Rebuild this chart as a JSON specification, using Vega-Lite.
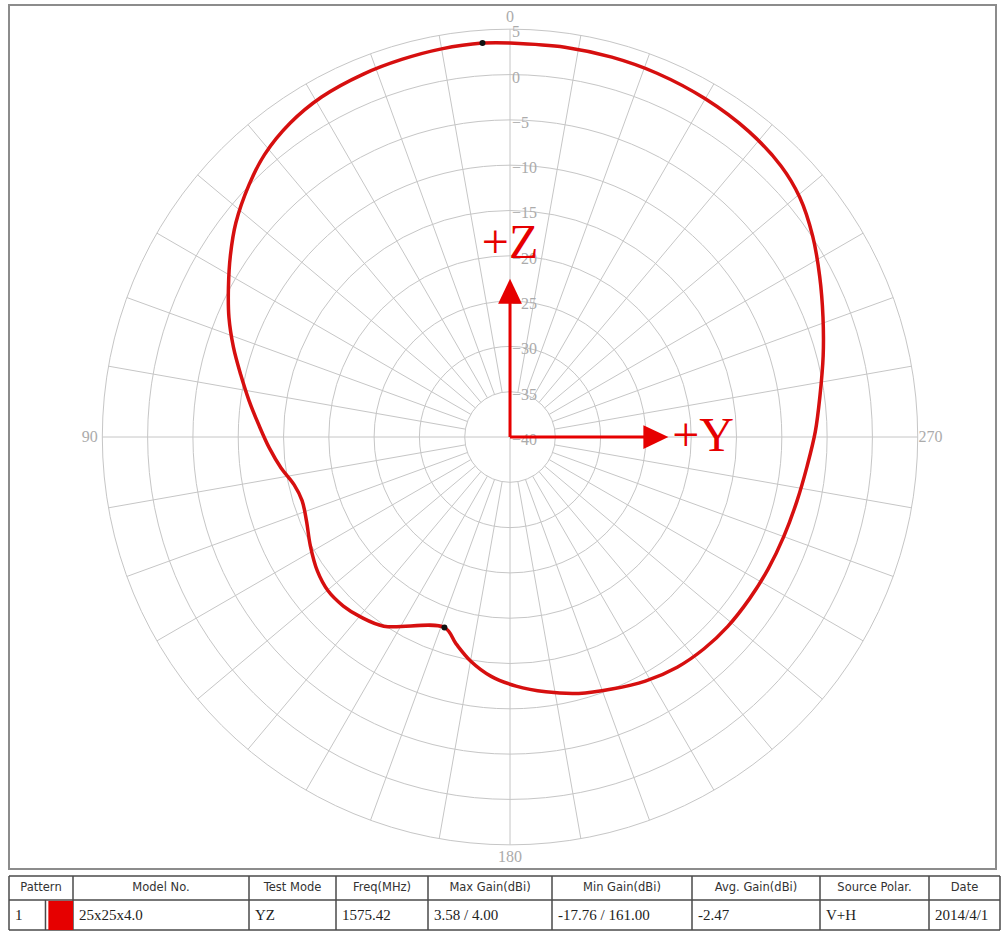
{
  "$schema": "https://vega.github.io/schema/vega-lite/v6.json",
  "background": "white",
  "padding": {"left": 8, "top": 4, "right": 0, "bottom": 0},
  "spacing": 5,
  "config": {"view": {"stroke": null}},
  "datasets": {
    "pattern": [
      {"a": 0, "g": 3.49}, {"a": 4, "g": 3.58}, {"a": 10, "g": 3.5}, {"a": 16, "g": 3.35}, {"a": 22, "g": 3.2},
      {"a": 29, "g": 2.9}, {"a": 35, "g": 2.3}, {"a": 41, "g": 1.3}, {"a": 46, "g": 0.05}, {"a": 52, "g": -1.6},
      {"a": 57, "g": -3.2}, {"a": 62, "g": -4.8}, {"a": 67, "g": -6.3}, {"a": 72, "g": -7.9}, {"a": 77, "g": -9.5},
      {"a": 82, "g": -10.9}, {"a": 87.5, "g": -12.3}, {"a": 92.6, "g": -13.4}, {"a": 97.7, "g": -14.5}, {"a": 102.5, "g": -15.6},
      {"a": 107, "g": -16.0}, {"a": 112.4, "g": -15.7}, {"a": 118.6, "g": -14.9}, {"a": 124.8, "g": -14.1}, {"a": 130.2, "g": -13.7},
      {"a": 135.4, "g": -13.8}, {"a": 140.4, "g": -14.2}, {"a": 146.3, "g": -14.9}, {"a": 161, "g": -17.76}, {"a": 165.4, "g": -16.4},
      {"a": 170, "g": -14.9}, {"a": 175.5, "g": -13.5}, {"a": 181.4, "g": -12.5}, {"a": 188, "g": -11.6}, {"a": 195, "g": -10.7},
      {"a": 202, "g": -10.0}, {"a": 209, "g": -9.2}, {"a": 216, "g": -8.6}, {"a": 222.5, "g": -8.3}, {"a": 229, "g": -8.15},
      {"a": 236, "g": -8.1}, {"a": 243, "g": -8.0}, {"a": 250, "g": -7.85}, {"a": 257.4, "g": -7.55}, {"a": 264.4, "g": -7.05},
      {"a": 271, "g": -6.3}, {"a": 277.5, "g": -5.5}, {"a": 284.5, "g": -4.3}, {"a": 291, "g": -3.0}, {"a": 297.4, "g": -1.5},
      {"a": 303.6, "g": 0.1}, {"a": 309.6, "g": 1.5}, {"a": 315, "g": 2.3}, {"a": 322, "g": 2.8}, {"a": 330, "g": 3.1},
      {"a": 338, "g": 3.3}, {"a": 345, "g": 3.4}, {"a": 352, "g": 3.45}, {"a": 360, "g": 3.49}
    ],
    "peaks": [{"a": 4, "g": 3.58, "kind": "max"}, {"a": 161, "g": -17.76, "kind": "min"}],
    "rings": [{"g": 5}, {"g": 0}, {"g": -5}, {"g": -10}, {"g": -15}, {"g": -20}, {"g": -25}, {"g": -30}, {"g": -35}],
    "ringLabels": [{"g": 5}, {"g": 0}, {"g": -5}, {"g": -10}, {"g": -15}, {"g": -20}, {"g": -25}, {"g": -30}, {"g": -35}, {"g": -40}],
    "spokes": [
      {"a": 0, "g0": -40}, {"a": 10, "g0": -35}, {"a": 20, "g0": -35}, {"a": 30, "g0": -35}, {"a": 40, "g0": -35}, {"a": 50, "g0": -35},
      {"a": 60, "g0": -35}, {"a": 70, "g0": -35}, {"a": 80, "g0": -35}, {"a": 90, "g0": -40}, {"a": 100, "g0": -35}, {"a": 110, "g0": -35},
      {"a": 120, "g0": -35}, {"a": 130, "g0": -35}, {"a": 140, "g0": -35}, {"a": 150, "g0": -35}, {"a": 160, "g0": -35}, {"a": 170, "g0": -35},
      {"a": 180, "g0": -40}, {"a": 190, "g0": -35}, {"a": 200, "g0": -35}, {"a": 210, "g0": -35}, {"a": 220, "g0": -35}, {"a": 230, "g0": -35},
      {"a": 240, "g0": -35}, {"a": 250, "g0": -35}, {"a": 260, "g0": -35}, {"a": 270, "g0": -40}, {"a": 280, "g0": -35}, {"a": 290, "g0": -35},
      {"a": 300, "g0": -35}, {"a": 310, "g0": -35}, {"a": 320, "g0": -35}, {"a": 330, "g0": -35}, {"a": 340, "g0": -35}, {"a": 350, "g0": -35}
    ],
    "angleLabels": [{"a": 0, "t": "0"}, {"a": 90, "t": "90"}, {"a": 180, "t": "180"}, {"a": 270, "t": "270"}],
    "axesArrows": [{"label": "+Z", "a": 0}, {"label": "+Y", "a": 270}],
    "header": [
      {"col": 0, "text": "Pattern"}, {"col": 1, "text": "Model No."}, {"col": 2, "text": "Test Mode"}, {"col": 3, "text": "Freq(MHz)"},
      {"col": 4, "text": "Max Gain(dBi)"}, {"col": 5, "text": "Min Gain(dBi)"}, {"col": 6, "text": "Avg. Gain(dBi)"},
      {"col": 7, "text": "Source Polar."}, {"col": 8, "text": "Date"}
    ],
    "record": [
      {"col": 0, "text": "1"}, {"col": 1, "text": "25x25x4.0"}, {"col": 2, "text": "YZ"}, {"col": 3, "text": "1575.42"},
      {"col": 4, "text": "3.58 / 4.00"}, {"col": 5, "text": "-17.76 / 161.00"}, {"col": 6, "text": "-2.47"},
      {"col": 7, "text": "V+H"}, {"col": 8, "text": "2014/4/1"}
    ],
    "vlines": [
      {"b": 0, "r0": 0, "r1": 2}, {"b": 1, "r0": 0, "r1": 2}, {"b": 2, "r0": 0, "r1": 2}, {"b": 3, "r0": 0, "r1": 2},
      {"b": 4, "r0": 0, "r1": 2}, {"b": 5, "r0": 0, "r1": 2}, {"b": 6, "r0": 0, "r1": 2}, {"b": 7, "r0": 0, "r1": 2},
      {"b": 8, "r0": 0, "r1": 2}, {"b": 9, "r0": 0, "r1": 2}, {"b": 0.57, "r0": 1, "r1": 2}
    ],
    "hlines": [{"r": 0}, {"r": 1}, {"r": 2}],
    "swatch": [{"pattern": 1, "c0": 0.615, "c1": 1, "r0": 1.03, "r1": 2}]
  },
  "vconcat": [
    {
      "width": 987,
      "height": 864,
      "view": {"stroke": "#8c8c8c", "strokeWidth": 2},
      "layer": [
        {
          "data": {"name": "rings"},
          "transform": [{"calculate": "datum.g + 40", "as": "rr"}, {"calculate": "0", "as": "cx"}, {"calculate": "0", "as": "cy"}],
          "mark": {"type": "point", "shape": "circle", "filled": false, "stroke": "#c6c6c6", "strokeWidth": 1, "opacity": 1},
          "encoding": {
            "x": {"field": "cx", "type": "quantitative", "scale": {"domain": [-55.3, 53.64], "nice": false, "zero": false}, "axis": null},
            "y": {"field": "cy", "type": "quantitative", "scale": {"domain": [-47.68, 47.68], "nice": false, "zero": false}, "axis": null},
            "size": {"field": "rr", "type": "quantitative", "scale": {"type": "pow", "exponent": 2, "domain": [0, 45], "range": [0, 664870], "zero": true, "nice": false}, "legend": null}
          }
        },
        {
          "data": {"name": "spokes"},
          "transform": [
            {"calculate": "-(datum.g0 + 40) * sin(datum.a * PI / 180)", "as": "x1"},
            {"calculate": "(datum.g0 + 40) * cos(datum.a * PI / 180)", "as": "y1"},
            {"calculate": "-45 * sin(datum.a * PI / 180)", "as": "x2"},
            {"calculate": "45 * cos(datum.a * PI / 180)", "as": "y2"}
          ],
          "mark": {"type": "rule", "stroke": "#c6c6c6", "strokeWidth": 1},
          "encoding": {
            "x": {"field": "x1", "type": "quantitative", "axis": null},
            "y": {"field": "y1", "type": "quantitative", "axis": null},
            "x2": {"field": "x2"},
            "y2": {"field": "y2"}
          }
        },
        {
          "data": {"name": "ringLabels"},
          "transform": [{"calculate": "datum.g + 40", "as": "rr"}, {"calculate": "0", "as": "cx"}],
          "mark": {"type": "text", "align": "left", "baseline": "middle", "dx": 2, "dy": 3, "font": "Liberation Serif", "fontSize": 16, "color": "#ababab"},
          "encoding": {
            "x": {"field": "cx", "type": "quantitative", "axis": null},
            "y": {"field": "rr", "type": "quantitative", "axis": null},
            "text": {"field": "g", "type": "quantitative"}
          }
        },
        {
          "data": {"name": "angleLabels"},
          "transform": [
            {"calculate": "-46.4 * sin(datum.a * PI / 180)", "as": "lx"},
            {"calculate": "46.4 * cos(datum.a * PI / 180)", "as": "ly"}
          ],
          "mark": {"type": "text", "align": "center", "baseline": "middle", "font": "Liberation Serif", "fontSize": 16, "color": "#ababab"},
          "encoding": {
            "x": {"field": "lx", "type": "quantitative", "axis": null},
            "y": {"field": "ly", "type": "quantitative", "axis": null},
            "text": {"field": "t", "type": "nominal"}
          }
        },
        {
          "data": {"name": "axesArrows"},
          "transform": [
            {"calculate": "0", "as": "ox"},
            {"calculate": "0", "as": "oy"},
            {"calculate": "-14.8 * sin(datum.a * PI / 180)", "as": "sx"},
            {"calculate": "14.8 * cos(datum.a * PI / 180)", "as": "sy"}
          ],
          "mark": {"type": "rule", "stroke": "#e60000", "strokeWidth": 3},
          "encoding": {
            "x": {"field": "ox", "type": "quantitative", "axis": null},
            "y": {"field": "oy", "type": "quantitative", "axis": null},
            "x2": {"field": "sx"},
            "y2": {"field": "sy"}
          }
        },
        {
          "data": {"name": "axesArrows"},
          "transform": [
            {"calculate": "-16.1 * sin(datum.a * PI / 180)", "as": "hx"},
            {"calculate": "16.1 * cos(datum.a * PI / 180)", "as": "hy"},
            {"calculate": "(360 - datum.a) % 360", "as": "rot"}
          ],
          "mark": {"type": "point", "shape": "M0,-1L0.95,1L-0.95,1Z", "filled": true, "color": "#e60000", "opacity": 1, "size": 625},
          "encoding": {
            "x": {"field": "hx", "type": "quantitative", "axis": null},
            "y": {"field": "hy", "type": "quantitative", "axis": null},
            "angle": {"field": "rot", "type": "quantitative", "scale": {"domain": [0, 360], "range": [0, 360]}, "legend": null}
          }
        },
        {
          "data": {"name": "axesArrows"},
          "transform": [
            {"calculate": "-21.3 * sin(datum.a * PI / 180)", "as": "tx"},
            {"calculate": "21.3 * cos(datum.a * PI / 180)", "as": "ty"}
          ],
          "mark": {"type": "text", "align": "center", "baseline": "middle", "font": "Liberation Serif", "fontSize": 48, "color": "#e60000"},
          "encoding": {
            "x": {"field": "tx", "type": "quantitative", "axis": null},
            "y": {"field": "ty", "type": "quantitative", "axis": null},
            "text": {"field": "label", "type": "nominal"}
          }
        },
        {
          "data": {"name": "pattern"},
          "transform": [
            {"calculate": "-(datum.g + 40) * sin(datum.a * PI / 180)", "as": "px"},
            {"calculate": "(datum.g + 40) * cos(datum.a * PI / 180)", "as": "py"}
          ],
          "mark": {"type": "line", "stroke": "#d60f0f", "strokeWidth": 3.5, "strokeJoin": "round", "interpolate": "catmull-rom"},
          "encoding": {
            "x": {"field": "px", "type": "quantitative", "axis": null},
            "y": {"field": "py", "type": "quantitative", "axis": null},
            "order": {"field": "a", "type": "quantitative"}
          }
        },
        {
          "data": {"name": "peaks"},
          "transform": [
            {"calculate": "-(datum.g + 40) * sin(datum.a * PI / 180)", "as": "px"},
            {"calculate": "(datum.g + 40) * cos(datum.a * PI / 180)", "as": "py"}
          ],
          "mark": {"type": "point", "shape": "circle", "filled": true, "color": "#111111", "opacity": 1, "size": 36},
          "encoding": {
            "x": {"field": "px", "type": "quantitative", "axis": null},
            "y": {"field": "py", "type": "quantitative", "axis": null}
          }
        }
      ]
    },
    {
      "width": 992,
      "height": 54,
      "layer": [
        {
          "data": {"name": "vlines"},
          "mark": {"type": "rule", "stroke": "#4a4a4a", "strokeWidth": 1.5},
          "encoding": {
            "x": {"field": "b", "type": "quantitative", "scale": {"domain": [0, 1, 2, 3, 4, 5, 6, 7, 8, 9], "range": [0, 64, 240, 327, 419, 543, 683, 811, 920, 991], "nice": false, "zero": false}, "axis": null},
            "y": {"field": "r0", "type": "quantitative", "scale": {"domain": [0, 1, 2], "range": [0, 24, 54], "nice": false, "zero": false}, "axis": null},
            "y2": {"field": "r1"}
          }
        },
        {
          "data": {"name": "hlines"},
          "transform": [{"calculate": "0", "as": "c0"}, {"calculate": "9", "as": "c1"}],
          "mark": {"type": "rule", "stroke": "#4a4a4a", "strokeWidth": 1.5},
          "encoding": {
            "x": {"field": "c0", "type": "quantitative", "axis": null},
            "x2": {"field": "c1"},
            "y": {"field": "r", "type": "quantitative", "axis": null}
          }
        },
        {
          "data": {"name": "swatch"},
          "mark": {"type": "rect", "color": "#e60000"},
          "encoding": {
            "x": {"field": "c0", "type": "quantitative", "axis": null},
            "x2": {"field": "c1"},
            "y": {"field": "r0", "type": "quantitative", "axis": null},
            "y2": {"field": "r1"}
          }
        },
        {
          "data": {"name": "header"},
          "transform": [{"calculate": "datum.col + 0.5", "as": "xm"}, {"calculate": "0.5", "as": "ym"}],
          "mark": {"type": "text", "align": "center", "baseline": "middle", "font": "DejaVu Sans", "fontSize": 11.5, "color": "#333333"},
          "encoding": {
            "x": {"field": "xm", "type": "quantitative", "axis": null},
            "y": {"field": "ym", "type": "quantitative", "axis": null},
            "text": {"field": "text", "type": "nominal"}
          }
        },
        {
          "data": {"name": "record"},
          "transform": [{"calculate": "1.5", "as": "ym"}],
          "mark": {"type": "text", "align": "left", "baseline": "middle", "dx": 6, "font": "Liberation Serif", "fontSize": 15, "color": "#222222"},
          "encoding": {
            "x": {"field": "col", "type": "quantitative", "axis": null},
            "y": {"field": "ym", "type": "quantitative", "axis": null},
            "text": {"field": "text", "type": "nominal"}
          }
        }
      ]
    }
  ]
}
